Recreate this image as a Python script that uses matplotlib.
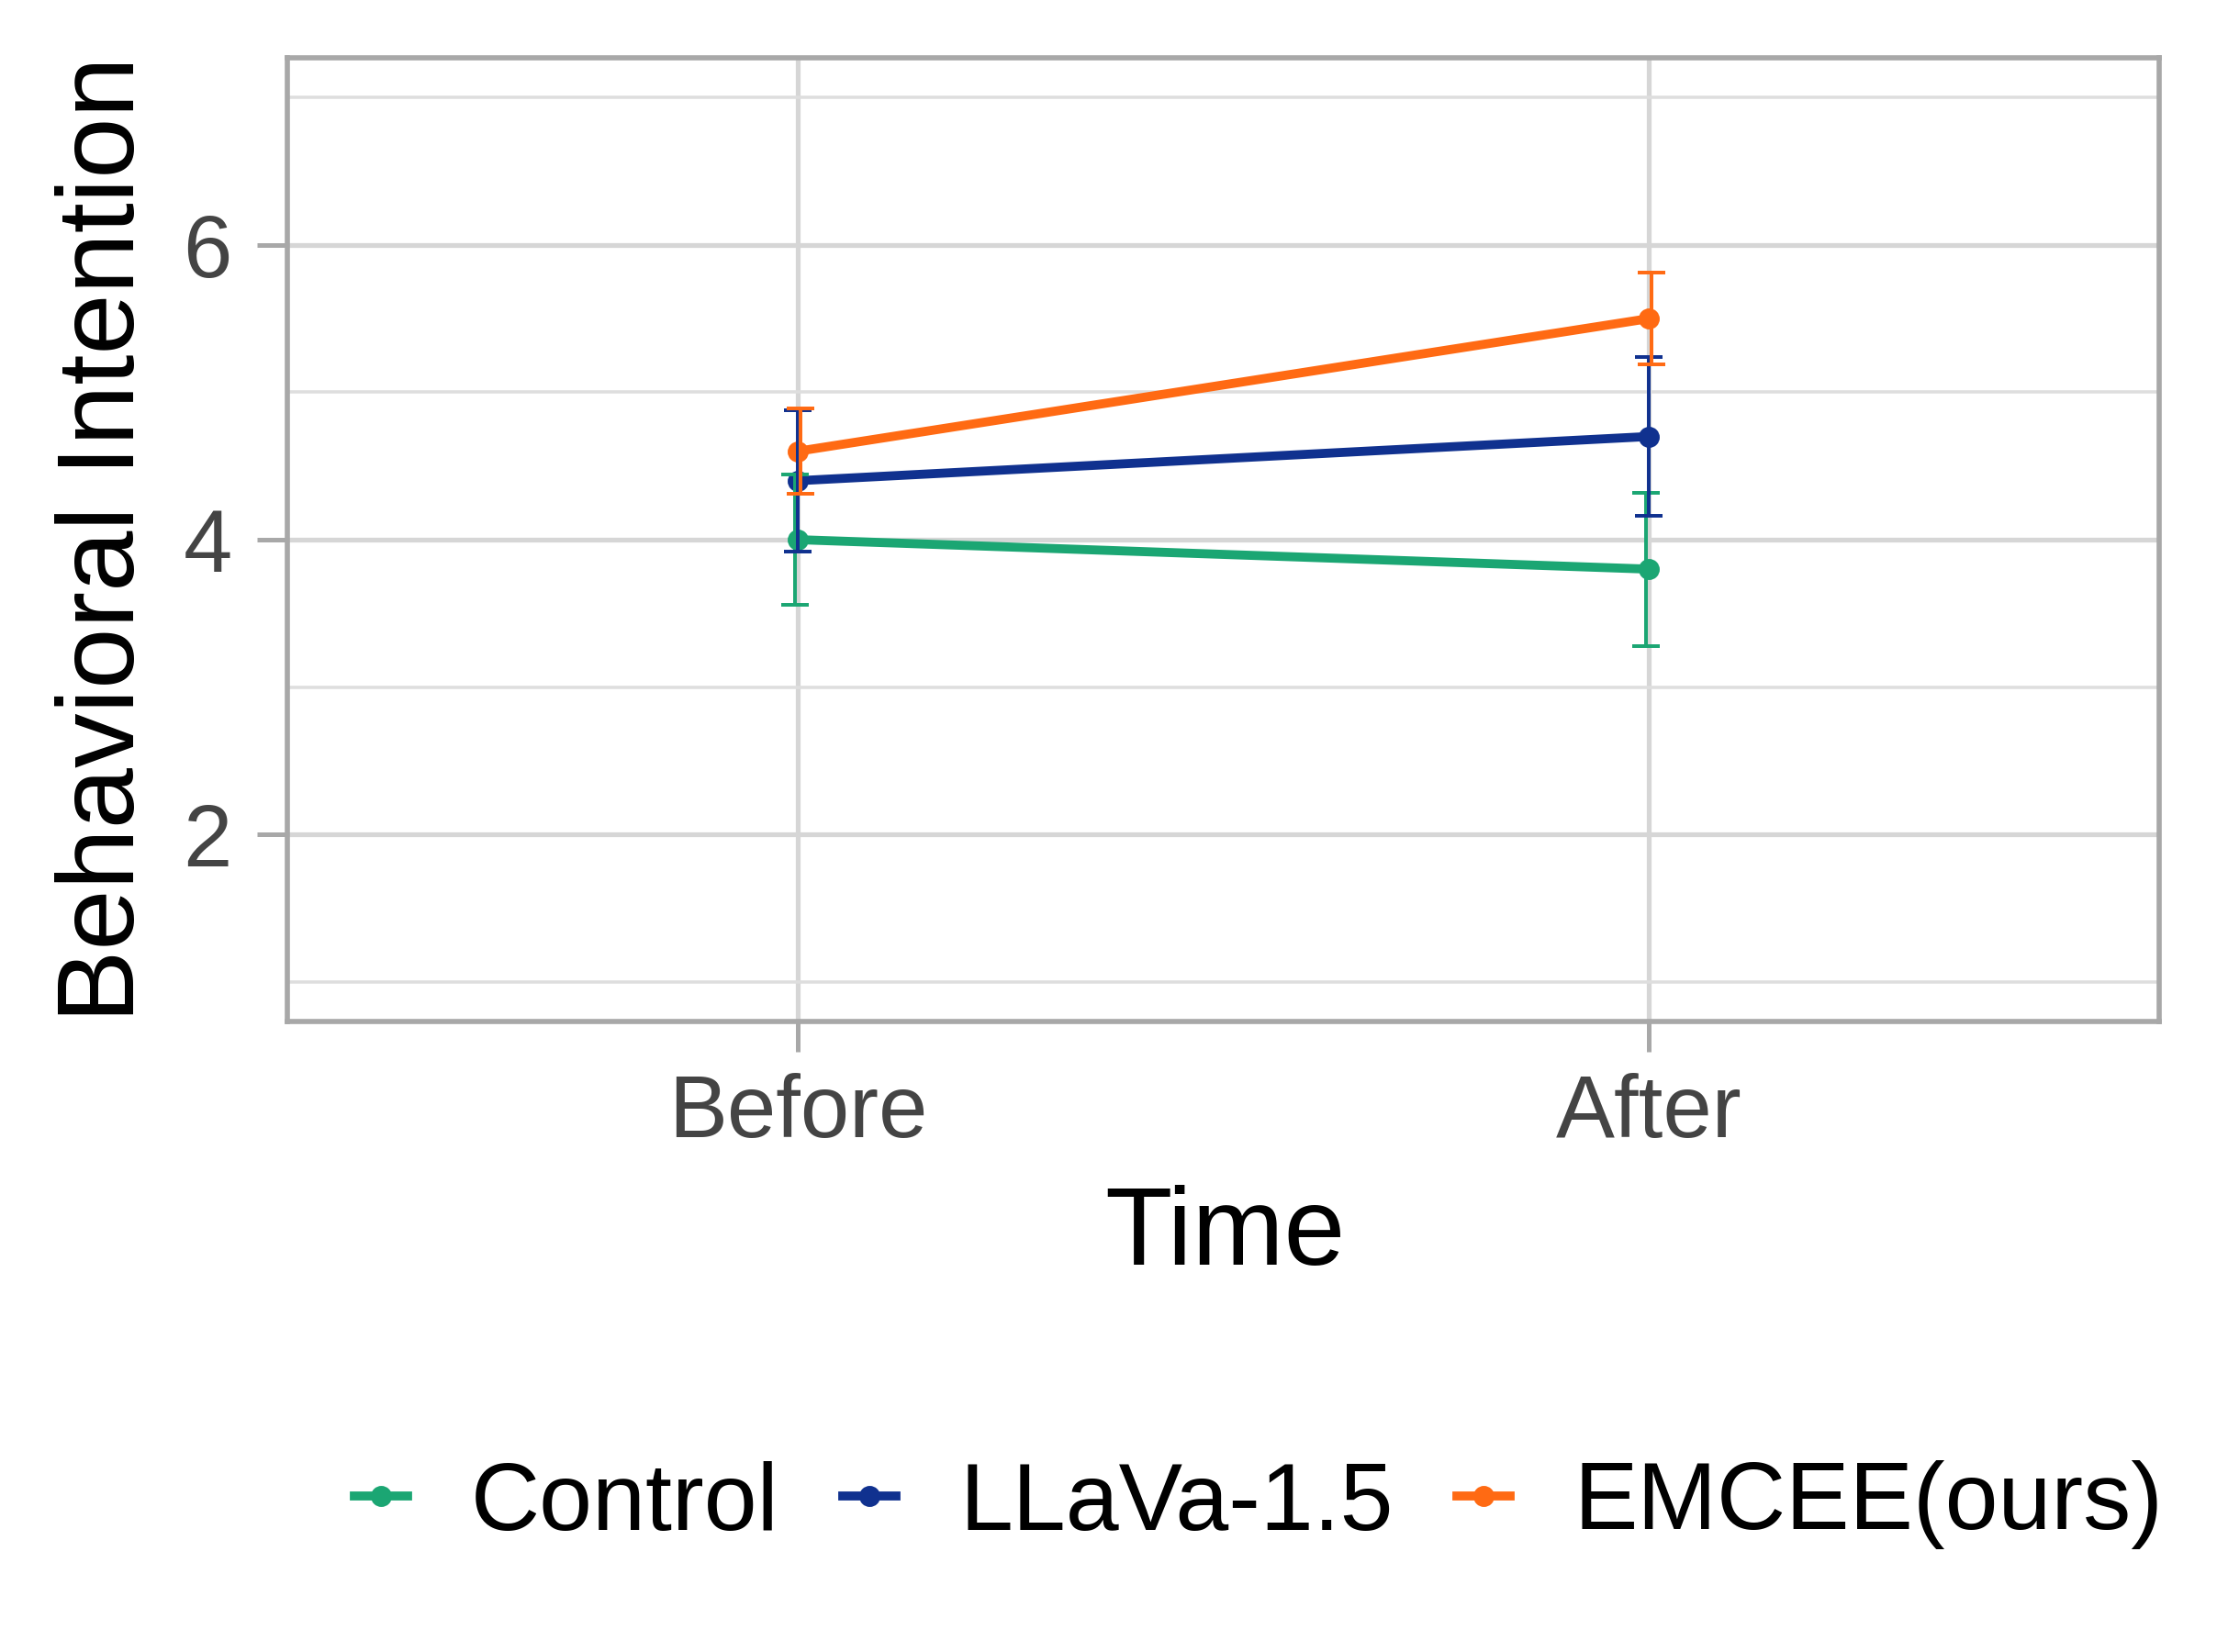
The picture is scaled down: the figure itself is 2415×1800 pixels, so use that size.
import matplotlib
matplotlib.use("Agg")
import matplotlib.pyplot as plt
from matplotlib.lines import Line2D
from matplotlib.ticker import FixedLocator
import numpy as np

plt.rcParams['font.family'] = ['Liberation Sans', 'DejaVu Sans']

# ---- data ----
times = ['Before', 'After']
groups = ['Control', 'LLaVa-1.5', 'EMCEE(ours)']
control_mean = [4.0, 3.8]
control_err = [0.44, 0.52]
llava_mean = [4.4, 4.7]
llava_err = [0.48, 0.54]
emcee_mean = [4.6, 5.5]
emcee_err = [0.29, 0.31]
y_major = [2, 4, 6]
y_minor = [1, 3, 5, 7]

colors = ['#1BA673', '#10318F', '#FF6A13']
means = [control_mean, llava_mean, emcee_mean]
errs = [control_err, llava_err, emcee_err]
dodges = [-0.0033, 0.0, 0.0033]

W, H = 2415, 1800
fig = plt.figure(figsize=(W / 300, H / 300), dpi=300)
L, R, T, B = 313, 2352, 63, 1113
ax = fig.add_axes([L / W, 1 - B / H, (R - L) / W, (B - T) / H])

x = np.arange(1, len(times) + 1)
for m, e, c, d in zip(means, errs, colors, dodges):
    ax.plot(x, m, color=c, lw=2.35, marker='o', ms=4.5, zorder=3,
            solid_capstyle='butt')
for m, e, c, d in zip(means, errs, colors, dodges):
    ax.errorbar(x + d, m, yerr=e, fmt='none', ecolor=c, elinewidth=0.95,
                capsize=3.6, capthick=0.95, zorder=4)

ax.set_xlim(0.4, 2.6)
ax.set_ylim(0.73, 7.27)
ax.set_xticks(x)
ax.set_xticklabels(times)
ax.yaxis.set_major_locator(FixedLocator(y_major))
ax.yaxis.set_minor_locator(FixedLocator(y_minor))

ax.grid(which='major', color='#D6D6D6', lw=1.25, zorder=0)
ax.grid(which='minor', axis='y', color='#DEDEDE', lw=0.85, zorder=0)
ax.set_axisbelow(True)

for s in ax.spines.values():
    s.set_color('#A8A8A8')
    s.set_linewidth(1.35)

ax.tick_params(which='major', length=8, width=1.2, color='#A8A8A8',
               labelsize=23, labelcolor='#444444')
ax.tick_params(axis='x', pad=5.5)
ax.tick_params(axis='y', pad=6.5)
ax.tick_params(which='minor', length=0)

fig.text(146 / W, 1 - 588 / H, 'Behavioral Intention', rotation=90,
         rotation_mode='anchor', ha='center', va='baseline', fontsize=28.6,
         color='black')
fig.text(1334 / W, 1 - 1378 / H, 'Time', ha='center', va='baseline',
         fontsize=28.8, color='black')

handles = [Line2D([], [], color=c, lw=2.35, marker='o', ms=4.5) for c in colors]
fig.legend(handles, groups, loc='center left',
           bbox_to_anchor=(386 / W, 1 - 1640 / H), ncol=3, frameon=False,
           fontsize=25, borderpad=0, borderaxespad=0,
           handlelength=0.557, handletextpad=0.66, columnspacing=0.67)

fig.savefig('out.png', dpi=300)
